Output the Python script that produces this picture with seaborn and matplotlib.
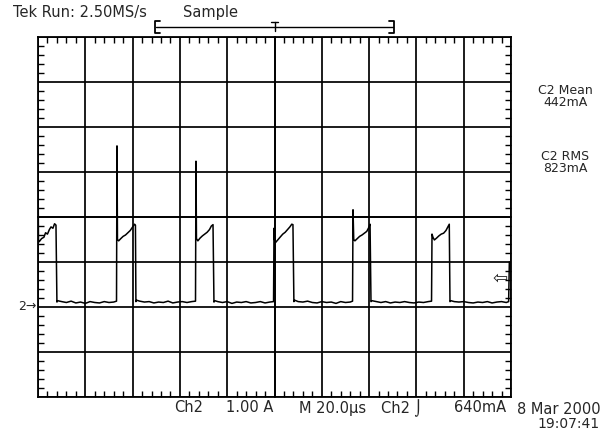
import numpy as np
import pandas as pd
import matplotlib
matplotlib.use('Agg')
import matplotlib.pyplot as plt
import matplotlib.transforms as mtransforms
from matplotlib.ticker import MultipleLocator
import seaborn as sns

# scope trace, time in us (20 us/div), current in A (1 A/div, ground at 0)
pulse1_t = [0.0, 0.2, 0.5, 1.5, 2.5, 3.2, 4.0, 4.8, 5.5, 6.3, 7.0, 7.6, 8.0]
pulse1_a = [3.15, 1.47, 1.45, 1.52, 1.55, 1.65, 1.62, 1.72, 1.78, 1.75, 1.85, 1.82, 0.11]
low1_t = [8.3, 10, 12, 14, 16, 18, 20, 22, 24, 26, 28, 30, 32, 33.2]
low1_a = [0.14, 0.12, 0.10, 0.13, 0.09, 0.11, 0.08, 0.12, 0.10, 0.09, 0.12, 0.10, 0.11, 0.13]

pulse2_t = [33.4, 33.6, 34.1, 35.0, 36.0, 37.0, 38.0, 39.0, 40.0, 40.8, 41.2, 41.4]
pulse2_a = [3.58, 1.50, 1.47, 1.52, 1.57, 1.60, 1.65, 1.70, 1.78, 1.84, 1.82, 0.12]
low2_t = [41.8, 43, 45, 47, 49, 51, 53, 55, 57, 59, 61, 63, 65, 66.6]
low2_a = [0.15, 0.13, 0.11, 0.12, 0.09, 0.11, 0.10, 0.13, 0.09, 0.11, 0.12, 0.10, 0.12, 0.13]

pulse3_t = [66.8, 67.0, 67.6, 68.5, 69.5, 70.5, 71.5, 72.5, 73.3, 74.0, 74.4]
pulse3_a = [3.24, 1.52, 1.47, 1.53, 1.58, 1.62, 1.66, 1.72, 1.80, 1.83, 0.11]
low3_t = [74.8, 76, 78, 80, 82, 84, 86, 88, 90, 92, 94, 96, 98, 99.6]
low3_a = [0.14, 0.12, 0.10, 0.12, 0.08, 0.11, 0.10, 0.12, 0.09, 0.10, 0.12, 0.09, 0.11, 0.12]

pulse4_t = [99.8, 100.0, 100.4, 101.5, 102.5, 103.5, 104.5, 105.5, 106.5, 107.3, 107.8, 108.2]
pulse4_a = [1.75, 1.50, 1.43, 1.50, 1.56, 1.62, 1.66, 1.72, 1.78, 1.84, 1.83, 0.12]
low4_t = [108.6, 110, 112, 114, 116, 118, 120, 122, 124, 126, 128, 130, 132, 133.0]
low4_a = [0.15, 0.12, 0.11, 0.13, 0.10, 0.09, 0.12, 0.10, 0.11, 0.08, 0.12, 0.10, 0.11, 0.13]

pulse5_t = [133.2, 133.5, 134.0, 135.0, 136.0, 137.0, 138.0, 139.0, 139.8, 140.4, 140.8]
pulse5_a = [2.16, 1.50, 1.47, 1.52, 1.57, 1.60, 1.64, 1.68, 1.76, 1.84, 0.12]
low5_t = [141.2, 143, 145, 147, 149, 151, 153, 155, 157, 159, 161, 163, 165, 166.4]
low5_a = [0.14, 0.12, 0.10, 0.12, 0.09, 0.11, 0.10, 0.12, 0.10, 0.09, 0.11, 0.10, 0.12, 0.13]

pulse6_t = [166.6, 167.0, 167.6, 168.5, 169.5, 170.5, 171.5, 172.5, 173.3, 173.9, 174.2]
pulse6_a = [1.62, 1.55, 1.49, 1.53, 1.58, 1.62, 1.64, 1.70, 1.78, 1.84, 0.12]
low6_t = [174.6, 176, 178, 180, 182, 184, 186, 188, 190, 192, 194, 196, 198, 199.0, 199.3, 200.0]
low6_a = [0.14, 0.12, 0.11, 0.12, 0.10, 0.09, 0.11, 0.10, 0.12, 0.09, 0.11, 0.12, 0.10, 0.12, 1.0, 1.0]

segments_t = [pulse1_t, low1_t, pulse2_t, low2_t, pulse3_t, low3_t,
              pulse4_t, low4_t, pulse5_t, low5_t, pulse6_t, low6_t]
segments_a = [pulse1_a, low1_a, pulse2_a, low2_a, pulse3_a, low3_a,
              pulse4_a, low4_a, pulse5_a, low5_a, pulse6_a, low6_a]

df = pd.DataFrame({'t': np.concatenate(segments_t), 'amps': np.concatenate(segments_a)})

sns.set_style('white')
plt.rcParams['font.family'] = ['DejaVu Sans']

fig = plt.figure(figsize=(6.09, 4.34), dpi=100)
pos = [38 / 609, 37 / 434, 473 / 609, 360 / 434]
ax = fig.add_axes(pos)

sns.lineplot(data=df, x='t', y='amps', estimator=None, sort=False,
             color='black', linewidth=1.1, ax=ax)

ax.set_xlim(0, 200)
ax.set_ylim(-2, 6)
ax.xaxis.set_major_locator(MultipleLocator(20))
ax.yaxis.set_major_locator(MultipleLocator(1))
ax.xaxis.set_minor_locator(MultipleLocator(4))
ax.yaxis.set_minor_locator(MultipleLocator(0.2))
ax.grid(True, which='major', color='black', linewidth=1.25)
ax.tick_params(which='both', labelbottom=False, labelleft=False,
               top=True, right=True, bottom=True, left=True, direction='in', color='black')
ax.tick_params(which='major', length=0)
ax.tick_params(which='minor', length=4, width=1)
ax.set_xlabel('')
ax.set_ylabel('')
for s in ax.spines.values():
    s.set_color('black')
    s.set_linewidth(1.3)

# centre crosshair with small ticks
ax2 = fig.add_axes(pos, sharex=ax, sharey=ax)
ax2.patch.set_visible(False)
ax2.spines['left'].set_position(('data', 100))
ax2.spines['bottom'].set_position(('data', 2))
ax2.spines['top'].set_visible(False)
ax2.spines['right'].set_visible(False)
for k in ['left', 'bottom']:
    ax2.spines[k].set_color('black')
    ax2.spines[k].set_linewidth(1.25)
ax2.tick_params(which='both', labelbottom=False, labelleft=False, direction='inout', color='black')
ax2.tick_params(which='major', length=0)
ax2.tick_params(which='minor', length=7, width=1)

# record bracket above the graticule
btr = mtransforms.blended_transform_factory(ax.transData, ax.transAxes)
ax.plot([50, 150], [1.028, 1.028], color='black', lw=1, transform=btr, clip_on=False)
ax.plot([51.5, 49.5, 49.5, 51.5], [1.044, 1.044, 1.012, 1.012], color='black', lw=1.3,
        transform=btr, clip_on=False)
ax.plot([148.5, 150.5, 150.5, 148.5], [1.044, 1.044, 1.012, 1.012], color='black', lw=1.3,
        transform=btr, clip_on=False)
ax.plot([98.6, 101.4], [1.042, 1.042], color='black', lw=1, transform=btr, clip_on=False)
ax.plot([100, 100], [1.042, 1.018], color='black', lw=1, transform=btr, clip_on=False)

fs = 9
fb = 10.5
fig.text(13 / 609, 1 - 13 / 434, 'Tek Run: 2.50MS/s', fontsize=fb, va='center')
fig.text(183 / 609, 1 - 13 / 434, 'Sample', fontsize=fb, va='center')

fig.text(565 / 609, 1 - 91 / 434, 'C2 Mean', fontsize=fs, ha='center', va='center')
fig.text(565 / 609, 1 - 103 / 434, '442mA', fontsize=fs, ha='center', va='center')
fig.text(565 / 609, 1 - 157 / 434, 'C2 RMS', fontsize=fs, ha='center', va='center')
fig.text(565 / 609, 1 - 169 / 434, '823mA', fontsize=fs, ha='center', va='center')

yb = 1 - 408 / 434
fig.text(174 / 609, yb, 'Ch2', fontsize=fb, va='center')
fig.text(226 / 609, yb, '1.00 A', fontsize=fb, va='center')
fig.text(299 / 609, yb, 'M 20.0µs', fontsize=fb, va='center')
fig.text(381 / 609, yb, 'Ch2 ⌡', fontsize=fb, va='center')
fig.text(454 / 609, yb, '640mA', fontsize=fb, va='center')
fig.text(517 / 609, 1 - 410 / 434, '8 Mar 2000', fontsize=fb, va='center')
fig.text(537 / 609, 1 - 424 / 434, '19:07:41', fontsize=fb - 0.5, va='center')

# ground marker and trigger level marker
gtr = mtransforms.blended_transform_factory(ax.transAxes, ax.transData)
ax.text(-0.003, 0, '2→', transform=gtr, ha='right', va='center', fontsize=fs, clip_on=False)
ax.text(0.993, 0.64, '⇦', transform=gtr, ha='right', va='center', fontsize=13)

fig.savefig('out.png', dpi=100)
